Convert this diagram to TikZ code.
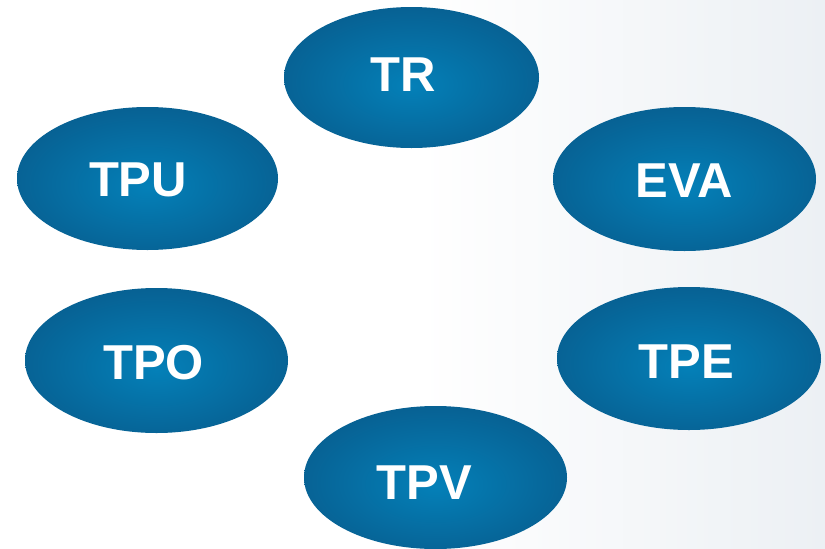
\documentclass[tikz,border=0pt]{standalone}
\usepackage{fontspec}
\setmainfont{Liberation Sans}
\usetikzlibrary{shapes.geometric}
\definecolor{bin}{RGB}{4,128,184}
\definecolor{bout}{RGB}{8,86,134}
\definecolor{bgr}{RGB}{236,240,244}
\pgfdeclareradialshading{blueoval}{\pgfpoint{0bp}{-3bp}}{color(0bp)=(bin); color(36bp)=(bout); color(50bp)=(bout)}
\tikzset{
  oval/.style={ellipse, draw=none, inner sep=0pt, shading=blueoval},
  lbl/.style={anchor=base, inner sep=0pt, text=white, font=\fontsize{49}{49}\selectfont\bfseries}
}
\begin{document}
\begin{tikzpicture}[x=1pt,y=-1pt]
\useasboundingbox (0,0) rectangle (825,549);
\fill[white] (0,0) rectangle (825,549);
\shade[left color=white, right color=bgr] (420,0) rectangle (825,549);
\node[oval, minimum width=255pt, minimum height=141pt] (TR) at (411.5,77.5) {};
\node[oval, minimum width=261pt, minimum height=143pt] (TPU) at (147.5,178.5) {};
\node[oval, minimum width=263pt, minimum height=144pt] (EVA) at (684.5,179) {};
\node[oval, minimum width=263pt, minimum height=145pt] (TPO) at (156.5,360.5) {};
\node[oval, minimum width=264pt, minimum height=143pt] (TPE) at (689,358.5) {};
\node[oval, minimum width=263pt, minimum height=143pt] (TPV) at (435.5,477.5) {};
\node[lbl] (tTR) at (403.5,91) {TR};
\node[lbl] (tTPU) at (138,196) {TPU};
\node[lbl] (tEVA) at (684,197) {EVA};
\node[lbl] (tTPO) at (153.5,379) {TPO};
\node[lbl] (tTPE) at (686.5,378) {TPE};
\node[lbl] (tTPV) at (424.5,499) {TPV};
\end{tikzpicture}
\end{document}
